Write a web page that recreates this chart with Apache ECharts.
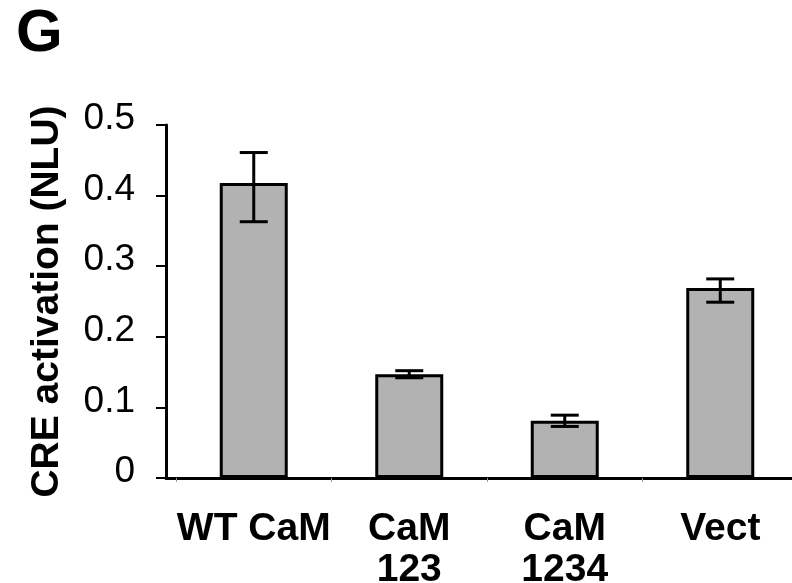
<!DOCTYPE html>
<html>
<head>
<meta charset="utf-8">
<script src="https://cdn.jsdelivr.net/npm/echarts@6/dist/echarts.min.js"></script>
<style>html,body{margin:0;padding:0;background:#fff}#c{width:792px;height:583px}</style>
</head>
<body>
<div id="c"></div>
<script>
var categories = ['WT CaM', 'CaM\n123', 'CaM\n1234', 'Vect'];
var values = [0.418, 0.147, 0.081, 0.269];
var errLow = [0.363, 0.142, 0.073, 0.249];
var errHigh = [0.461, 0.152, 0.089, 0.282];
var yTicks = [0, 0.1, 0.2, 0.3, 0.4, 0.5];

var chart = echarts.init(document.getElementById('c'));
var FONT = '"Liberation Sans", Arial, sans-serif';
var errData = categories.map(function (c, i) { return [i, errLow[i], errHigh[i]]; });

chart.setOption({
  animation: false,
  backgroundColor: '#fff',
  title: {
    text: 'G', left: 11, top: -1,
    textStyle: { fontFamily: FONT, fontWeight: 'bold', fontSize: 60, color: '#000' }
  },
  grid: [
    { left: 176, width: 622, top: 125, bottom: 105, containLabel: false, outerBoundsMode: 'none' },
    { left: 166, right: 0, top: 125, bottom: 105, containLabel: false, outerBoundsMode: 'none' }
  ],
  xAxis: [
    {
      type: 'category', gridIndex: 0, data: categories,
      axisLine: { show: false },
      axisTick: { show: true, length: 4, lineStyle: { color: '#999', width: 1 } },
      axisLabel: {
        interval: 0, margin: 31, color: '#000', fontFamily: FONT,
        fontWeight: 'bold', fontSize: 39, lineHeight: 41
      }
    },
    {
      type: 'value', gridIndex: 1, min: 0, max: 1,
      axisLine: { show: true, lineStyle: { color: '#000', width: 3 } },
      axisTick: { show: false }, axisLabel: { show: false }, splitLine: { show: false }
    }
  ],
  yAxis: [
    { type: 'value', gridIndex: 0, min: 0, max: 0.5, show: false },
    {
      type: 'value', gridIndex: 1, min: 0, max: 0.5, interval: 0.1,
      name: 'CRE activation (NLU)', nameLocation: 'middle', nameGap: 99,
      nameTextStyle: { fontFamily: FONT, fontWeight: 'bold', fontSize: 39, color: '#000' },
      axisLine: { show: true, lineStyle: { color: '#000', width: 3 } },
      axisTick: { show: true, length: 10, lineStyle: { color: '#000', width: 2 } },
      splitLine: { show: false },
      axisLabel: {
        margin: 31, color: '#000', fontFamily: FONT, fontSize: 37,
        verticalAlign: 'bottom', lineHeight: 12,
        formatter: function (v) {
          var idx = yTicks.findIndex(function (t) { return Math.abs(t - v) < 1e-9; });
          return idx >= 0 ? String(yTicks[idx]) : '';
        }
      }
    }
  ],
  series: [
    {
      type: 'bar', xAxisIndex: 0, yAxisIndex: 0, data: values, barWidth: 68,
      itemStyle: { color: '#b2b2b2', borderColor: '#000', borderWidth: 3 },
      z: 2
    },
    {
      type: 'custom', xAxisIndex: 0, yAxisIndex: 0, data: errData, z: 3,
      renderItem: function (params, api) {
        var x = api.value(0);
        var lo = api.coord([x, api.value(1)]);
        var hi = api.coord([x, api.value(2)]);
        var hw = 14;
        var st = { stroke: '#000', lineWidth: 3 };
        return {
          type: 'group',
          children: [
            { type: 'line', shape: { x1: hi[0], y1: hi[1], x2: lo[0], y2: lo[1] }, style: st },
            { type: 'line', shape: { x1: hi[0] - hw, y1: hi[1], x2: hi[0] + hw, y2: hi[1] }, style: st },
            { type: 'line', shape: { x1: lo[0] - hw, y1: lo[1], x2: lo[0] + hw, y2: lo[1] }, style: st }
          ]
        };
      }
    }
  ]
});
</script>
</body>
</html>
